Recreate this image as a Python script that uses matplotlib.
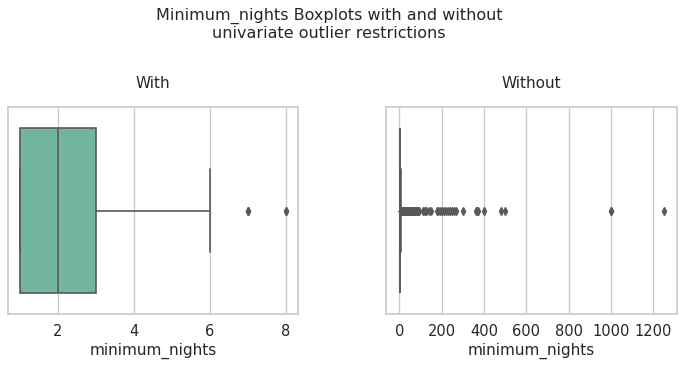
import numpy as np
import matplotlib
matplotlib.use("Agg")
import matplotlib.pyplot as plt
import seaborn as sns

# Left panel (with restrictions): values and their counts
with_values = [1, 2, 3, 4, 5, 6, 7, 8]
with_counts = [40, 30, 20, 8, 6, 4, 3, 2]

# Right panel (without restrictions): values and their counts
without_values = [1, 2, 3, 4, 5, 6, 7, 8, 9, 10, 12, 14, 15, 18, 20, 21, 25, 28,
                  30, 31, 35, 40, 45, 50, 55, 60, 65, 70, 75, 80, 85, 90, 95,
                  110, 120, 125, 140, 150, 180, 185, 190, 200, 210, 220, 230,
                  240, 250, 260, 270, 300, 360, 365, 370, 400, 480, 500, 1000, 1250]
without_counts = [400, 300, 250, 80, 60, 40, 30, 20, 5, 10, 5, 6, 5, 3, 5, 3, 3, 2,
                  6, 2, 2, 3, 2, 3, 2, 3, 1, 2, 1, 2, 1, 2, 1,
                  1, 2, 1, 1, 1, 1, 1, 1, 1, 1, 1, 1,
                  1, 1, 1, 1, 1, 1, 1, 1, 1, 1, 1, 2, 1]

sns.set_theme(style="whitegrid")
plt.rcParams['font.family'] = ['DejaVu Sans']

with_data = np.repeat(with_values, with_counts)
without_data = np.repeat(without_values, without_counts)

fig = plt.figure(figsize=(6.84, 3.65), dpi=100)
ax1 = fig.add_axes([0.0117, 0.1397, 0.424, 0.567])
ax2 = fig.add_axes([0.5643, 0.1397, 0.4255, 0.567])

box_color = "#66c2a5"
line_color = "#595959"
for ax, data, title in [(ax1, with_data, "With"), (ax2, without_data, "Without")]:
    sns.boxplot(x=data, ax=ax, color=box_color, saturation=0.75, width=0.8,
                linecolor=line_color, linewidth=1.2,
                flierprops=dict(marker="d", markerfacecolor=line_color,
                                markeredgecolor=line_color, markersize=4))
    ax.set_title(title, fontsize=11, pad=14)
    ax.set_xlabel("minimum_nights", fontsize=11, labelpad=2.5)
    ax.tick_params(axis='x', labelsize=10.5, pad=1.5)
    ax.set_yticks([])
    ax.grid(axis='y', visible=False)
    for s in ax.spines.values():
        s.set_color("#cccccc")

ax1.set_xlim(0.684, 8.316)
ax1.set_xticks([2, 4, 6, 8])
ax2.set_xlim(-63, 1312)
ax2.set_xticks([0, 200, 400, 600, 800, 1000, 1200])

fig.suptitle("Minimum_nights Boxplots with and without\nunivariate outlier restrictions",
             fontsize=11.5, x=0.481, y=0.98)

fig.savefig("out.png", dpi=100)
